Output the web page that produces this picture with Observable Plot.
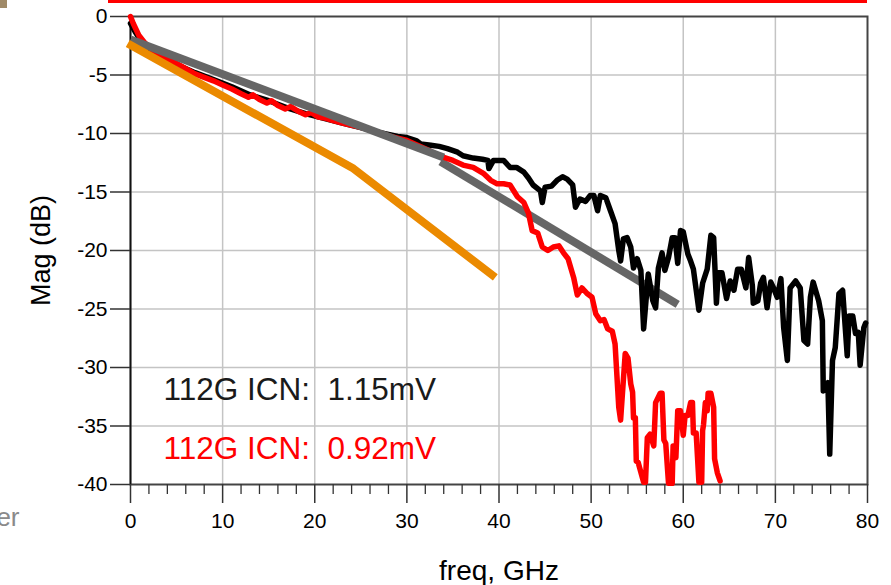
<!DOCTYPE html>
<html>
<head>
<meta charset="utf-8">
<script src="https://cdn.jsdelivr.net/npm/d3@7"></script>
<script src="https://cdn.jsdelivr.net/npm/@observablehq/plot@0.6"></script>
<style>
  body { margin: 0; background: #fff; }
  #wrap { position: relative; width: 891px; height: 585px; overflow: hidden; }
  #topbar { position: absolute; left: 108px; top: 0; width: 759px; height: 3px; background: #ff0000; }
  #corner { position: absolute; left: 0; top: 0; width: 7px; height: 8px; background: #a08a68; }
</style>
</head>
<body>
<div id="wrap"><div id="chart"></div><div id="topbar"></div><div id="corner"></div></div>
<script>
// ---- data ----
const xTicks = [0, 10, 20, 30, 40, 50, 60, 70, 80];
const yTicks = [0, -5, -10, -15, -20, -25, -30, -35, -40];
const minorTicks = [2,4,6,8,12,14,16,18,22,24,26,28,32,34,36,38,42,44,46,48,52,54,56,58,62,64,66,68,72,74,76,78];

const xLabel = "freq, GHz";
const yLabel = "Mag (dB)";
const annotations = ["112G ICN:  1.15mV", "112G ICN:  0.92mV"];
const fragment = "er";

// measured ICN spectrum (black)
const blackTrace = [
  [0,-0.6],[0.5,-1.3],[1,-1.9],[2,-2.7],[3,-3.3],[5,-4.1],[7,-4.8],[9,-5.4],[11,-6.0],[13,-6.7],
  [15,-7.2],[17,-7.8],[19,-8.3],[21,-8.7],[23,-9.1],[25,-9.5],[27,-9.9],[29,-10.25],[30,-10.35],
  [31,-10.6],[31.5,-10.9],[32.6,-11],[33.5,-11.1],[34.4,-11.3],[35.5,-11.6],[36.1,-11.9],[37.2,-12.1],
  [38.2,-12.2],[38.8,-12.3],[38.9,-13],[39.4,-12.3],[40.5,-12.3],[41.2,-12.9],[41.9,-12.9],[42.7,-13.3],
  [43.2,-13.8],[43.7,-14.4],[44.5,-14.9],[44.7,-15.9],[45,-14.6],[45.7,-14.5],[46.3,-14],[46.9,-13.7],
  [47.4,-13.9],[48,-14.4],[48.3,-16.3],[48.5,-16],[48.8,-15.6],[49.4,-15.8],[49.9,-15.3],[50.3,-15.3],
  [50.7,-16.6],[51,-15.3],[51.6,-15.5],[52.1,-16.6],[52.6,-17.7],[53,-20],[53.2,-20.9],[53.5,-19],
  [53.9,-18.9],[54.3,-19.7],[54.6,-21.5],[55,-20.7],[55.4,-21.7],[55.7,-26.7],[56.2,-22],[56.7,-24.3],
  [57,-24.9],[57.3,-21.5],[57.7,-20.2],[58,-21.7],[58.4,-20.6],[58.8,-18.9],[59.1,-18.9],[59.4,-21.1],
  [59.7,-18.3],[60,-18.4],[60.5,-20.3],[60.8,-20.9],[61.1,-21.6],[61.7,-25.1],[62.1,-22.8],[62.6,-21.6],
  [63,-18.7],[63.3,-18.9],[63.6,-24.5],[63.8,-21.9],[64.2,-21.9],[64.7,-24.1],[65.1,-22.6],[65.5,-23.4],
  [65.9,-21.6],[66.3,-21.6],[66.8,-23.2],[67.1,-20.6],[67.5,-23],[67.6,-24.5],[68.1,-24.3],[68.4,-22.8],
  [68.7,-22.3],[69.1,-24.9],[69.5,-22.7],[69.8,-23.2],[70.2,-24],[70.6,-22.4],[70.9,-26.6],[71.3,-29.4],
  [71.6,-23.2],[72.2,-22.6],[72.7,-23.2],[73.1,-27.7],[73.5,-28],[73.8,-24],[74.1,-22.7],[74.7,-24.3],
  [75.1,-26],[75.2,-32],[75.7,-31.3],[75.9,-37.4],[76.2,-29.4],[76.5,-28.3],[76.9,-23.7],[77.3,-23.4],
  [77.8,-29],[78,-25.6],[78.4,-25.6],[78.7,-27.1],[79,-27],[79.2,-29.8],[79.6,-26.6],[79.8,-26.2]
];

// measured ICN spectrum (red)
const redTrace = [
  [0,0],[0.3,-0.6],[0.9,-1.6],[1.6,-2.3],[3,-3.3],[5,-4.0],[7,-4.9],[9,-5.5],[10,-5.85],[11,-6.2],
  [12,-6.6],[12.8,-6.9],[13.3,-6.7],[14,-7.1],[14.8,-7.4],[15.3,-7.2],[16,-7.6],[16.8,-7.9],[17.4,-7.7],
  [18.2,-8.1],[19,-8.4],[19.6,-8.2],[20.4,-8.6],[21.2,-8.7],[22,-8.9],[23,-9.1],[24,-9.3],[26,-9.65],
  [28,-10.2],[30,-10.6],[32,-11.3],[33.5,-11.9],[35,-12.3],[36.1,-12.7],[37.2,-12.9],[38.3,-13.4],
  [39.1,-14],[39.8,-14.3],[40.5,-14.3],[41.2,-14.4],[42,-15.4],[42.7,-15.9],[43.2,-16.8],[43.6,-18.3],
  [44.2,-18.5],[44.7,-19.7],[45.3,-20],[45.9,-19.7],[46.5,-19.6],[47,-20.2],[47.5,-20.7],[48.1,-22.3],
  [48.5,-23.8],[49,-23.2],[49.6,-23.7],[50.1,-24],[50.5,-25.4],[51,-26],[51.4,-25.9],[51.8,-26.7],
  [52.3,-26.9],[52.6,-28],[53,-33.4],[53.2,-34.5],[53.7,-28.8],[54,-29.2],[54.3,-31.4],[54.5,-32.1],
  [54.6,-34.3],[54.8,-34.3],[54.9,-38],[55.1,-38.1],[55.7,-39.8],[55.9,-39.8],[56.1,-36],[56.4,-35.7],
  [56.8,-36.7],[57,-33],[57.5,-32.2],[57.7,-32.2],[57.9,-36.2],[58.1,-36.5],[58.4,-39.9],[58.8,-39.9],
  [58.9,-36.7],[59.2,-37.7],[59.4,-33.7],[59.7,-33.7],[60,-35.8],[60.2,-34.1],[60.5,-34.1],[60.8,-33],
  [61,-33],[61.1,-35.6],[61.4,-35.6],[61.7,-39.8],[62,-39.8],[62.1,-35.4],[62.2,-34.9],[62.4,-33],
  [62.6,-33.7],[62.7,-32.2],[63,-32.2],[63.3,-33.4],[63.4,-37.8],[63.7,-39],[64,-39.7]
];

// fitted slopes (gray) and reference mask (orange)
const grayFitLow = [[0,-1.97],[34.0,-12.05]];
const grayFitHigh = [[33.65,-12.4],[59.4,-24.6]];
const orangeMask = [[-0.3,-2.3],[24.2,-13.0],[39.6,-22.3]];

// ---- chart ----
const fx = d => d[0], fy = d => d[1];
const plain = d => `${d}`;
const chart = Plot.plot({
  width: 891, height: 585,
  marginLeft: 130, marginRight: 24, marginTop: 16, marginBottom: 101,
  x: {domain: [0, 80]},
  y: {domain: [-40, 0]},
  style: {fontFamily: "'Liberation Sans', Arial, Helvetica, sans-serif", background: "#fff", color: "#000", overflow: "visible"},
  marks: [
    Plot.gridX(xTicks.slice(1, -1), {stroke: "#c4c4c4", strokeOpacity: 1, strokeWidth: 1.5}),
    Plot.gridY(yTicks.slice(1, -1), {stroke: "#c4c4c4", strokeOpacity: 1, strokeWidth: 1.5}),
    Plot.frame({stroke: "#444", strokeWidth: 2}),
    Plot.ruleX([0], {stroke: "#111", strokeWidth: 1.5}),
    Plot.axisX(minorTicks, {anchor: "bottom", tickSize: 10, tickFormat: () => "", stroke: "#333", strokeWidth: 1.3, label: null}),
    Plot.axisX(xTicks, {anchor: "bottom", tickSize: 19, tickPadding: 10, tickFormat: plain, fontSize: 21, stroke: "#333", strokeWidth: 1.5, fill: "#000", label: null}),
    Plot.axisY(yTicks, {anchor: "left", tickSize: 20, tickPadding: 3, tickFormat: plain, fontSize: 21, stroke: "#333", strokeWidth: 1.5, fill: "#000", label: null}),
    Plot.line(grayFitHigh, {x: fx, y: fy, stroke: "#666", strokeWidth: 8, strokeLinecap: "butt"}),
    Plot.line(blackTrace, {x: fx, y: fy, stroke: "#000", strokeWidth: 5.5}),
    Plot.line(redTrace, {x: fx, y: fy, stroke: "#ff0000", strokeWidth: 5.5}),
    Plot.line(grayFitLow, {x: fx, y: fy, stroke: "#666", strokeWidth: 8, strokeLinecap: "butt"}),
    Plot.line(orangeMask, {x: fx, y: fy, stroke: "#eb8a00", strokeWidth: 8, strokeLinecap: "butt", strokeLinejoin: "miter"}),
    Plot.text([annotations[0]], {text: d => d, frameAnchor: "top-left", dx: 33, dy: 373, textAnchor: "start", lineAnchor: "middle", fontSize: 31.5, fill: "#1a1a1a"}),
    Plot.text([annotations[1]], {text: d => d, frameAnchor: "top-left", dx: 33, dy: 432, textAnchor: "start", lineAnchor: "middle", fontSize: 31.5, fill: "#ff0000"}),
    Plot.text([xLabel], {text: d => d, frameAnchor: "bottom", dy: 87, textAnchor: "middle", lineAnchor: "middle", fontSize: 28, fill: "#000"}),
    Plot.text([yLabel], {text: d => d, frameAnchor: "left", dx: -89, rotate: -90, textAnchor: "middle", lineAnchor: "middle", fontSize: 27, fill: "#000"}),
    Plot.text([fragment], {text: d => d, frameAnchor: "bottom-left", dx: -111, dy: 33, textAnchor: "end", lineAnchor: "middle", fontSize: 26, fill: "#8a8a8a"})
  ]
});
document.getElementById("chart").appendChild(chart);
</script>
</body>
</html>
